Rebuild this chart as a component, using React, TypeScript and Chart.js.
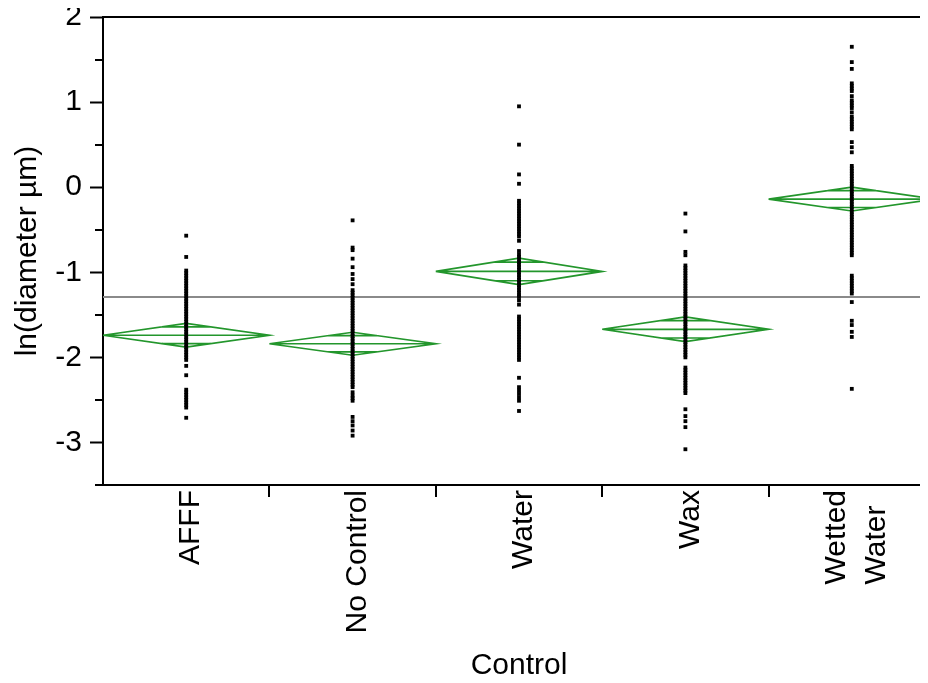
import React, { useEffect, useRef } from 'react';
import { Chart, registerables } from 'chart.js';

Chart.register(...registerables);

const categories = ['AFFF', 'No Control', 'Water', 'Wax', 'Wetted Water'];
const categoryLabelLines = [['AFFF'], ['No Control'], ['Water'], ['Wax'], ['Wetted', 'Water']];
const yTickValues = [-3, -2, -1, 0, 1, 2];
const yMinorTickValues = [-3.5, -2.5, -1.5, -0.5, 0.5, 1.5];

const afffValues = [-0.57, -0.82, -0.98, -1.01, -1.04, -1.07, -1.10, -1.13, -1.16, -1.19, -1.22, -1.25, -1.28, -1.31, -1.34, -1.37, -1.40, -1.43, -1.46, -1.49, -1.52, -1.55, -1.58, -1.61, -1.64, -1.67, -1.70, -1.73, -1.76, -1.79, -1.82, -1.85, -1.88, -1.91, -1.94, -1.97, -2.00, -2.03, -2.10, -2.21, -2.38, -2.41, -2.44, -2.47, -2.50, -2.53, -2.56, -2.59, -2.71];
const noControlValues = [-0.39, -0.71, -0.74, -0.84, -0.94, -1.02, -1.08, -1.14, -1.21, -1.24, -1.27, -1.30, -1.33, -1.36, -1.39, -1.42, -1.45, -1.48, -1.51, -1.54, -1.57, -1.60, -1.63, -1.66, -1.69, -1.72, -1.75, -1.78, -1.81, -1.84, -1.87, -1.90, -1.93, -1.96, -1.99, -2.02, -2.05, -2.08, -2.11, -2.14, -2.17, -2.20, -2.23, -2.26, -2.29, -2.32, -2.35, -2.41, -2.45, -2.48, -2.51, -2.70, -2.75, -2.80, -2.86, -2.92];
const waterValues = [0.95, 0.50, 0.15, 0.04, -0.16, -0.19, -0.22, -0.25, -0.28, -0.31, -0.34, -0.37, -0.40, -0.43, -0.46, -0.49, -0.52, -0.55, -0.58, -0.63, -0.75, -0.79, -0.82, -0.85, -0.88, -0.91, -0.94, -0.97, -1.00, -1.03, -1.06, -1.09, -1.12, -1.15, -1.18, -1.21, -1.24, -1.27, -1.29, -1.33, -1.38, -1.52, -1.55, -1.58, -1.61, -1.64, -1.67, -1.70, -1.73, -1.76, -1.79, -1.82, -1.85, -1.88, -1.91, -1.94, -1.97, -2.00, -2.03, -2.24, -2.35, -2.39, -2.43, -2.47, -2.51, -2.63];
const waxValues = [-0.31, -0.52, -0.76, -0.80, -0.92, -0.95, -0.98, -1.01, -1.04, -1.07, -1.10, -1.13, -1.16, -1.19, -1.22, -1.25, -1.28, -1.31, -1.34, -1.37, -1.40, -1.43, -1.46, -1.49, -1.52, -1.55, -1.58, -1.61, -1.64, -1.67, -1.70, -1.73, -1.76, -1.79, -1.82, -1.85, -1.88, -1.91, -1.94, -1.97, -2.00, -2.12, -2.15, -2.18, -2.21, -2.24, -2.27, -2.30, -2.33, -2.36, -2.39, -2.42, -2.61, -2.69, -2.75, -2.82, -3.08];
const wettedWaterValues = [1.65, 1.47, 1.39, 1.22, 1.19, 1.16, 1.13, 1.07, 1.02, 0.99, 0.96, 0.93, 0.88, 0.83, 0.80, 0.77, 0.74, 0.71, 0.68, 0.53, 0.47, 0.41, 0.25, 0.22, 0.19, 0.16, 0.13, 0.10, 0.07, 0.04, 0.01, -0.02, -0.05, -0.08, -0.11, -0.14, -0.17, -0.20, -0.23, -0.26, -0.29, -0.32, -0.35, -0.38, -0.41, -0.44, -0.47, -0.50, -0.53, -0.56, -0.59, -0.62, -0.65, -0.68, -0.71, -0.74, -0.77, -0.80, -1.04, -1.07, -1.10, -1.13, -1.16, -1.19, -1.22, -1.25, -1.35, -1.57, -1.62, -1.70, -1.76, -2.37];

const groupValues = [afffValues, noControlValues, waterValues, waxValues, wettedWaterValues];
const groupMeans = [-1.74, -1.84, -0.99, -1.67, -0.14];
const groupHalfCI = [0.14, 0.135, 0.155, 0.145, 0.14];
const grandMean = -1.29;

const FONT = '"Liberation Sans", Arial, sans-serif';
const GREEN = '#23962c';

const decorPlugin = {
  id: 'decor',
  afterDraw(chart: any) {
    const { ctx, chartArea: a, scales } = chart;
    const x = scales.x;
    const y = scales.y;
    ctx.save();
    ctx.strokeStyle = '#000';
    ctx.lineWidth = 2;
    ctx.beginPath();
    ctx.moveTo(a.left, a.top);
    ctx.lineTo(a.right, a.top);
    ctx.lineTo(a.right, a.bottom);
    ctx.stroke();

    ctx.beginPath();
    yMinorTickValues.forEach((v) => {
      const py = Math.round(y.getPixelForValue(v));
      ctx.moveTo(a.left - 8, py);
      ctx.lineTo(a.left, py);
    });
    for (let i = 0; i < categories.length; i++) {
      const px = Math.round(x.getPixelForValue(i + 0.5));
      ctx.moveTo(px, a.bottom);
      ctx.lineTo(px, a.bottom + 12);
    }
    ctx.stroke();

    ctx.fillStyle = '#000';
    ctx.font = '30px ' + FONT;
    ctx.textBaseline = 'middle';
    ctx.textAlign = 'left';
    categoryLabelLines.forEach((lines, i) => {
      const cx = x.getPixelForValue(i) + 5;
      const maxW = Math.max(...lines.map((l) => ctx.measureText(l).width));
      const startY = a.bottom + 5 + maxW;
      const spacing = 40;
      lines.forEach((l, j) => {
        const lx = cx + (j - (lines.length - 1) / 2) * spacing;
        ctx.save();
        ctx.translate(lx, startY);
        ctx.rotate(-Math.PI / 2);
        ctx.fillText(l, 0, 0);
        ctx.restore();
      });
    });
    ctx.restore();
  },
};

export default function App() {
  const ref = useRef<HTMLCanvasElement>(null);

  useEffect(() => {
    document.body.style.overflow = 'hidden';
    const pointData: { x: number; y: number }[] = [];
    groupValues.forEach((vals, i) => vals.forEach((v) => pointData.push({ x: i, y: v })));

    const diamondData: { x: number; y: number | null }[] = [];
    const overlapW = 0.5 * (1 - Math.SQRT1_2);
    groupMeans.forEach((m, i) => {
      const h = groupHalfCI[i];
      diamondData.push({ x: i - 0.5, y: m });
      diamondData.push({ x: i, y: m + h });
      diamondData.push({ x: i + 0.5, y: m });
      diamondData.push({ x: i, y: m - h });
      diamondData.push({ x: i - 0.5, y: m });
      diamondData.push({ x: i + 0.5, y: m });
      diamondData.push({ x: i + 0.5, y: null });
      diamondData.push({ x: i - overlapW, y: m + h * Math.SQRT1_2 });
      diamondData.push({ x: i + overlapW, y: m + h * Math.SQRT1_2 });
      diamondData.push({ x: i + overlapW, y: null });
      diamondData.push({ x: i - overlapW, y: m - h * Math.SQRT1_2 });
      diamondData.push({ x: i + overlapW, y: m - h * Math.SQRT1_2 });
      diamondData.push({ x: i + overlapW, y: null });
    });

    const grandData = [
      { x: -0.5, y: grandMean },
      { x: categories.length - 0.5, y: grandMean },
    ];

    Chart.defaults.font.family = FONT;
    const chart = new Chart(ref.current as HTMLCanvasElement, {
      type: 'scatter',
      data: {
        datasets: [
          {
            data: pointData,
            pointStyle: 'rect',
            pointRadius: 2.7,
            pointBorderWidth: 0,
            backgroundColor: '#000',
            borderColor: '#000',
            showLine: false,
          },
          {
            data: diamondData,
            showLine: true,
            spanGaps: false,
            pointRadius: 0,
            borderColor: GREEN,
            borderWidth: 1.7,
            fill: false,
          },
          {
            data: grandData,
            showLine: true,
            pointRadius: 0,
            borderColor: '#8a8a8a',
            borderWidth: 2,
            fill: false,
          },
        ],
      },
      options: {
        responsive: false,
        maintainAspectRatio: false,
        animation: false,
        events: [],
        layout: { padding: { top: 17, right: 5, bottom: 0, left: 0 } },
        plugins: { legend: { display: false }, tooltip: { enabled: false } },
        scales: {
          x: {
            type: 'linear',
            min: -0.5,
            max: categories.length - 0.5,
            afterFit: (s: any) => {
              s.height = 198;
              s.paddingLeft = 0;
              s.paddingRight = 0;
            },
            afterBuildTicks: (s: any) => {
              s.ticks = categories.map((_, i) => ({ value: i }));
            },
            ticks: { display: false },
            grid: { display: true, drawOnChartArea: false, drawTicks: false },
            border: { display: true, color: '#000', width: 2 },
            title: {
              display: true,
              text: 'Control',
              color: '#000',
              font: { size: 30, lineHeight: 1.13 },
              padding: { top: 0, bottom: 0 },
            },
          },
          y: {
            type: 'linear',
            min: -3.5,
            max: 2,
            afterFit: (s: any) => {
              s.width = 103;
              s.paddingTop = 0;
              s.paddingBottom = 0;
            },
            afterBuildTicks: (s: any) => {
              s.ticks = yTickValues.map((v) => ({ value: v }));
            },
            ticks: {
              color: '#000',
              font: { size: 30 },
              padding: 8,
              callback: (v: any) => String(v),
            },
            grid: {
              display: true,
              drawOnChartArea: false,
              drawTicks: true,
              tickLength: 13,
              tickWidth: 2,
              tickColor: '#000',
            },
            border: { display: true, color: '#000', width: 2 },
            title: {
              display: true,
              text: 'ln(diameter µm)',
              color: '#000',
              font: { size: 30, lineHeight: 1.13 },
              padding: { top: 11, bottom: 0 },
            },
          },
        },
      },
      plugins: [decorPlugin],
    });
    return () => chart.destroy();
  }, []);

  return (
    <div style={{ margin: '-8px 0 -8px -8px', width: 928, height: 683, overflow: 'hidden', background: '#fff' }}>
      <canvas ref={ref} width={940} height={683} style={{ display: 'block' }} />
    </div>
  );
}
